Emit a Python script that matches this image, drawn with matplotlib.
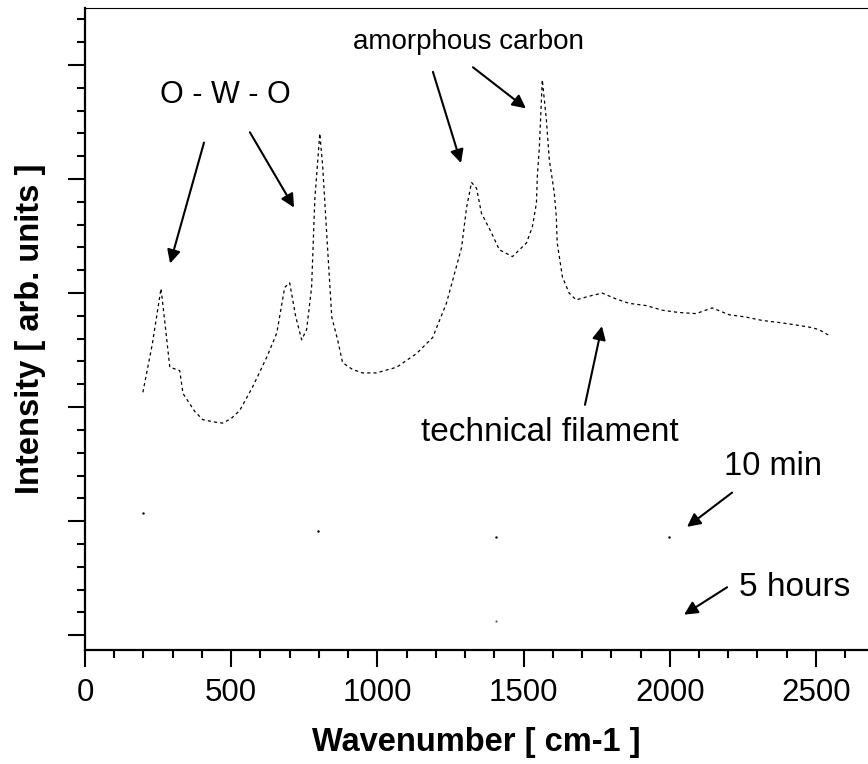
import matplotlib
matplotlib.use("Agg")
import matplotlib.pyplot as plt
from matplotlib.ticker import MultipleLocator, NullFormatter

plt.rcParams['font.family'] = ['Liberation Sans', 'DejaVu Sans']

# technical filament spectrum
wavenumber = [198, 230, 260, 275, 290, 324, 335, 376, 403, 440, 471, 500, 529, 574,
              622, 656, 683, 700, 721, 741, 758, 775, 786, 803, 813, 830, 844,
              864, 881, 915, 949, 997, 1066, 1134, 1189, 1236, 1270, 1288, 1305,
              1322, 1339, 1356, 1390, 1417, 1462, 1510, 1530, 1544, 1547, 1554,
              1564, 1578, 1588, 1605, 1612, 1615, 1633, 1656, 1680, 1720, 1769,
              1815, 1861, 1920, 1974, 2030, 2090, 2145, 2203, 2260, 2316, 2380,
              2432, 2480, 2510, 2544]
intensity = [2.13, 2.55, 3.04, 2.70, 2.35, 2.32, 2.12, 1.96, 1.89, 1.87, 1.86, 1.90,
             1.97, 2.18, 2.44, 2.65, 3.05, 3.09, 2.79, 2.59, 2.68, 3.05, 3.82, 4.40,
             4.11, 3.38, 2.79, 2.59, 2.39, 2.33, 2.30, 2.30, 2.35, 2.47, 2.61, 2.91,
             3.23, 3.40, 3.75, 3.97, 3.92, 3.70, 3.53, 3.38, 3.32, 3.44, 3.58, 3.79,
             4.02, 4.28, 4.87, 4.52, 4.17, 3.88, 3.67, 3.44, 3.14, 3.00, 2.94, 2.97,
             3.00, 2.95, 2.91, 2.89, 2.85, 2.83, 2.82, 2.87, 2.81, 2.79, 2.76, 2.74,
             2.72, 2.70, 2.68, 2.63]

# the two treated samples show only a few dots
wn_10min = [198, 796, 1407, 1998]
int_10min = [1.07, 0.91, 0.86, 0.86]
wn_5h = [1407]
int_5h = [0.12]

fig = plt.figure(figsize=(8.68, 7.64), dpi=100)
ax = fig.add_axes([85 / 868, 114 / 764, 783 / 868, 642 / 764])

ax.plot(wavenumber, intensity, color='k', lw=0.9, linestyle=(0, (2.5, 2.5)))
ax.plot(wn_10min, int_10min, 'k.', ms=1.5)
ax.plot(wn_5h, int_5h, 'k.', ms=1.2, alpha=0.6)

ax.set_xlim(0, 2678)
ax.set_ylim(-0.13, 5.5)

ax.xaxis.set_major_locator(MultipleLocator(500))
ax.xaxis.set_minor_locator(MultipleLocator(100))
ax.yaxis.set_major_locator(MultipleLocator(1))
ax.yaxis.set_minor_locator(MultipleLocator(0.2))
ax.yaxis.set_major_formatter(NullFormatter())

ax.tick_params(which='major', direction='out', length=12, width=1.5, labelsize=22.5, pad=8)
ax.tick_params(which='minor', direction='out', length=6, width=1.5)
ax.spines['right'].set_visible(False)
for s in ['left', 'bottom']:
    ax.spines[s].set_linewidth(1.6)
ax.spines['top'].set_linewidth(0.8)

ax.set_xlabel('Wavenumber [ cm-1 ]', fontsize=23.5, fontweight='bold', labelpad=14)
ax.set_ylabel('Intensity [ arb. units ]', fontsize=23.5, fontweight='bold', labelpad=8)

arrow = dict(arrowstyle='-|>', color='k', lw=1.5, mutation_scale=20, shrinkA=0, shrinkB=0)

ax.text(479, 4.74, 'O - W - O', fontsize=22, ha='center', va='center')
ax.annotate('', xy=(291, 3.26), xytext=(407, 4.32), arrowprops=arrow)
ax.annotate('', xy=(715, 3.75), xytext=(564, 4.41), arrowprops=arrow)

ax.text(1313, 5.20, 'amorphous carbon', fontsize=20, ha='center', va='center')
ax.annotate('', xy=(1286, 4.14), xytext=(1190, 4.94), arrowprops=arrow)
ax.annotate('', xy=(1508, 4.62), xytext=(1327, 4.98), arrowprops=arrow)

ax.text(1590, 1.78, 'technical filament', fontsize=24, ha='center', va='center')
ax.annotate('', xy=(1768, 2.71), xytext=(1710, 2.02), arrowprops=arrow)

ax.text(2353, 1.48, '10 min', fontsize=23.5, ha='center', va='center')
ax.annotate('', xy=(2059, 0.95), xytext=(2213, 1.25), arrowprops=arrow)

ax.text(2428, 0.42, '5 hours', fontsize=24, ha='center', va='center')
ax.annotate('', xy=(2049, 0.18), xytext=(2196, 0.42), arrowprops=arrow)

fig.savefig('out.png', dpi=100)
